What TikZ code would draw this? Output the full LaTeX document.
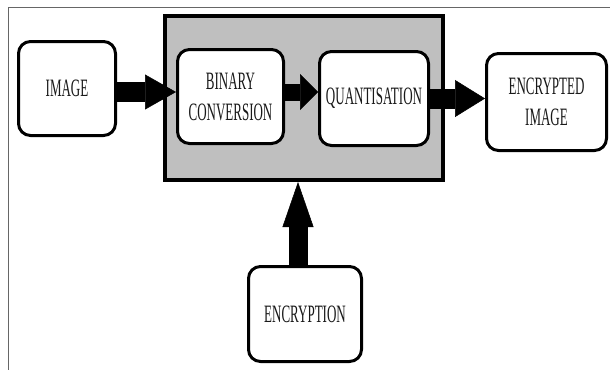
\documentclass[tikz,border=0pt]{standalone}
\usepackage{fontspec}
\setmainfont{Liberation Serif}
\usetikzlibrary{arrows.meta}
\newcommand{\narrow}[1]{\scalebox{0.52}[1]{#1}}

\begin{document}
\begin{tikzpicture}[x=1pt, y=-1pt,
    block/.style={draw, line width=3pt, rounded corners=12pt, fill=white,
        text=black!90, align=center, inner sep=0pt,
        font=\fontsize{25}{31}\selectfont},
    fat/.style n args={3}{line width=#1pt,
        -{Triangle[length=#2pt, width=#3pt, line width=0.5pt]}}]
    \useasboundingbox (0,0) rectangle (610,370);

    \draw[black!60, line width=1pt] (610,7) -- (8,7) -- (8,370);

    \node[draw, line width=4pt, fill=black!25, minimum width=278pt, minimum height=164pt] (grp) at (304,98) {};

    \node[block, minimum width=97pt, minimum height=94pt] (img) at (67,88.5) {\narrow{IMAGE}};
    \node[block, minimum width=106pt, minimum height=94pt] (bin) at (230.5,96.5) {\narrow{BINARY}\\\narrow{CONVERSION}};
    \node[block, minimum width=109pt, minimum height=94pt] (quant) at (374,98.5) {\narrow{QUANTISATION}};
    \node[block, minimum width=120pt, minimum height=97pt] (enc) at (546.5,102) {\narrow{ENCRYPTED}\\\narrow{IMAGE}};
    \node[block, minimum width=113pt, minimum height=95pt] (crypt) at (305,314) {\narrow{ENCRYPTION}};

    \draw[fat={20}{31}{35}] (img.east |- 0,92) -- (bin.west |- 0,92);
    \draw[fat={17}{18}{36}] (bin.east |- 0,92) -- (quant.west |- 0,92);
    \draw[fat={20}{30}{37}] (quant.east) -- (quant.east -| enc.west);
    \draw[fat={19}{45}{31}] ([xshift=-7pt]crypt.north) -- ([xshift=-7pt]crypt.north |- grp.south);
\end{tikzpicture}
\end{document}
